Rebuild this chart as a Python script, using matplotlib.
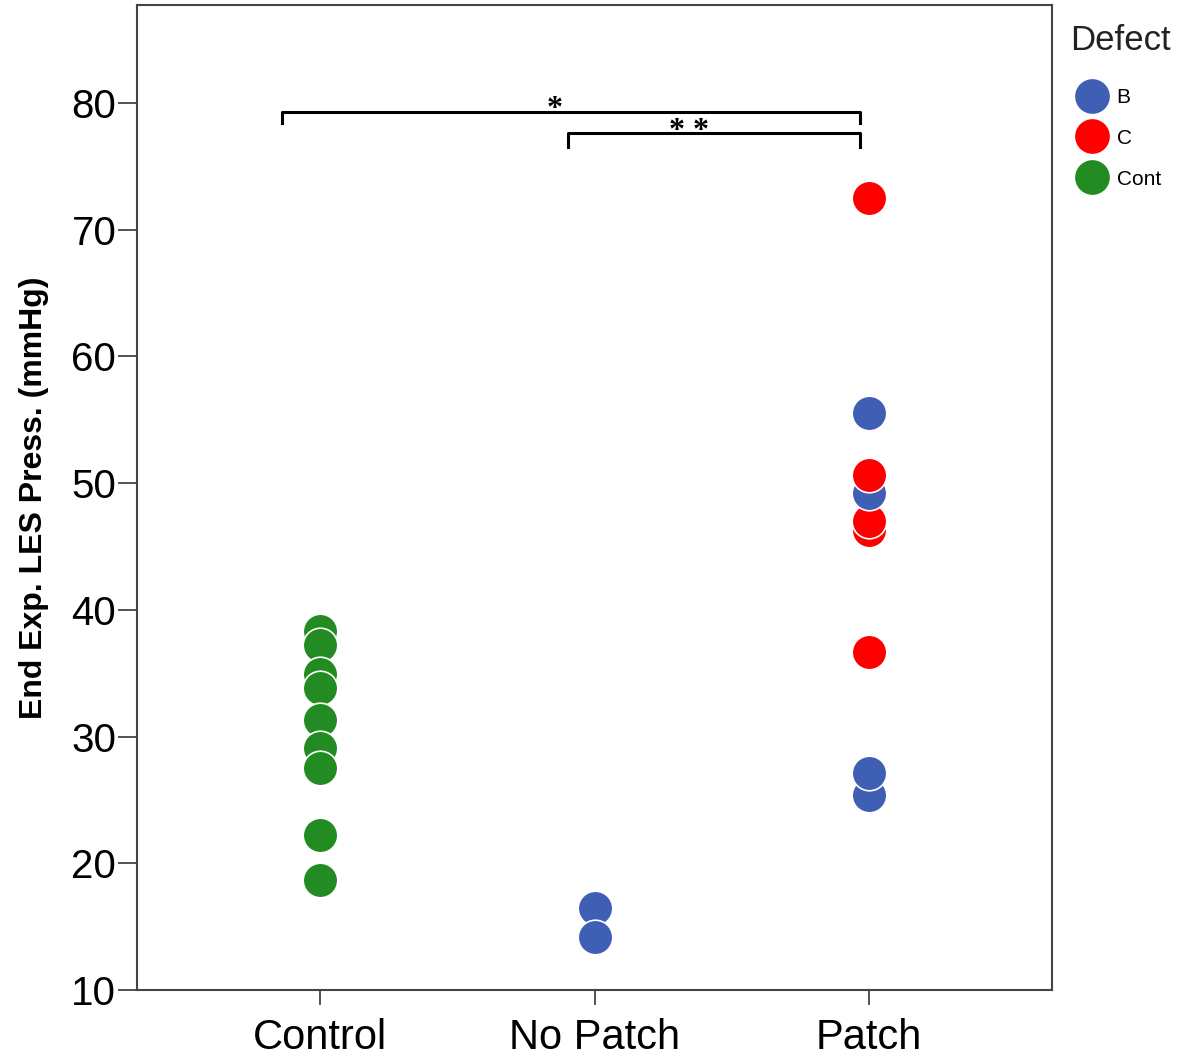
import matplotlib
matplotlib.use('Agg')
from matplotlib import pyplot as plt
from matplotlib.lines import Line2D

plt.rcParams['font.family'] = ['Liberation Sans', 'DejaVu Sans']

groups = ['Control', 'No Patch', 'Patch']
colors = {'B': '#3f5fb5', 'C': '#ff0000', 'Cont': '#228b22'}

control_vals = [38.3, 37.2, 34.9, 33.8, 31.3, 29.1, 27.5, 22.2, 18.7]
nopatch_vals = [16.5, 14.2]
patch_b_vals = [55.5, 49.2, 27.1, 25.4]
patch_c_vals = [72.5, 50.6, 46.3, 47.0, 36.7]

fig = plt.figure(figsize=(11.82, 10.6), dpi=100)
ax = fig.add_axes([0.116, 0.066, 0.774, 0.929])

ms = 620
ax.scatter([0] * len(control_vals), control_vals, s=ms, color=colors['Cont'],
           edgecolor='white', linewidth=1.2, zorder=3)
ax.scatter([1] * len(nopatch_vals), nopatch_vals, s=ms, color=colors['B'],
           edgecolor='white', linewidth=1.2, zorder=3)
# patch points low to high so the overlaps stack like the original
pts = [(v, 'B') for v in patch_b_vals] + [(v, 'C') for v in patch_c_vals]
pts.sort()
for v, d in pts:
    ax.scatter([2], [v], s=ms, color=colors[d], edgecolor='white',
               linewidth=1.2, zorder=3)

ax.set_xlim(-0.665, 2.665)
ax.set_ylim(10, 87.7)
ax.set_xticks([0, 1, 2])
ax.set_xticklabels(groups, fontsize=30)
ax.set_yticks(range(10, 81, 10))
ax.tick_params(axis='y', labelsize=29, length=14, width=1.3, color='#444444', pad=1)
ax.tick_params(axis='x', length=11, width=1.3, color='#444444', pad=9)
ax.set_ylabel('End Exp. LES Press. (mmHg)', fontsize=23, fontweight='bold',
              labelpad=16)
for sp in ax.spines.values():
    sp.set_color('#444444')
    sp.set_linewidth(1.5)


def bracket(x0, x1, y, drop, label, tx):
    ax.plot([x0, x0, x1, x1], [y - drop, y, y, y - drop], color='black',
            lw=2.2, clip_on=False, zorder=4)
    ax.text(tx, y - 0.45, label, ha='center', va='baseline', fontsize=23,
            fontfamily='Liberation Serif', fontweight='bold')

bracket(-0.138, 1.967, 79.3, 0.9, '*', 0.855)
bracket(0.902, 1.967, 77.6, 1.1, '* *', 1.345)

# legend: title drawn separately so the gap matches
fig.text(0.905, 0.962, 'Defect', fontsize=25, ha='left', va='center',
         color='#222222')
handles = [Line2D([], [], marker='o', linestyle='', markersize=26,
                  markerfacecolor=colors[k], markeredgecolor='white', label=k)
           for k in ['B', 'C', 'Cont']]
leg = fig.legend(handles=handles, loc='upper left',
                 bbox_to_anchor=(0.898, 0.925), frameon=False, fontsize=15,
                 handletextpad=0.15, labelspacing=1.05,
                 borderaxespad=0, handlelength=2.1)

fig.savefig('out.png', dpi=100)
